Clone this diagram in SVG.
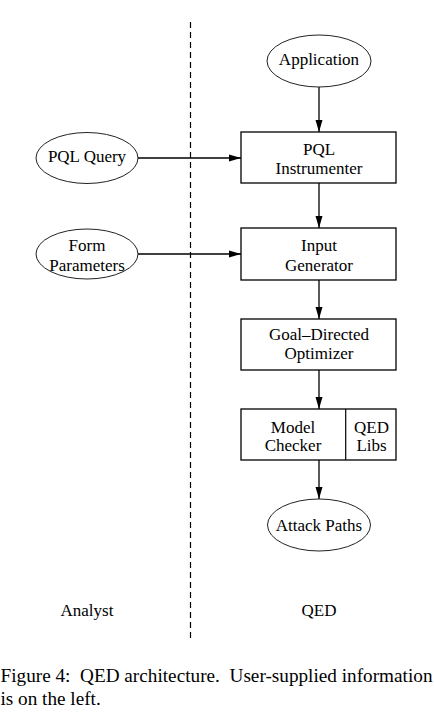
<svg xmlns="http://www.w3.org/2000/svg" width="434" height="716" viewBox="0 0 434 716">
<style>
text{font-family:"Liberation Serif","Times New Roman",serif;font-size:17px;fill:#000;text-anchor:middle}
.box{fill:#fff;stroke:#000;stroke-width:1.3}
.ell{fill:#fff;stroke:#222;stroke-width:1}
.edge{stroke:#000;stroke-width:1.3;fill:none}
.cap{font-size:19.2px;text-anchor:start}
</style>
<defs>
<marker id="ah" markerWidth="12" markerHeight="8" refX="12" refY="4" orient="auto" markerUnits="userSpaceOnUse">
<path d="M0,0.5 L12,4 L0,7.5 Z" fill="#000"/>
</marker>
</defs>
<rect width="434" height="716" fill="#fff"/>
<line x1="190.5" y1="22" x2="190.5" y2="642" stroke="#000" stroke-width="1.2" stroke-dasharray="6,4"/>
<g id="connectors">
<line class="edge" x1="319" y1="87" x2="319" y2="132" marker-end="url(#ah)"/>
<line class="edge" x1="138" y1="158" x2="241" y2="158" marker-end="url(#ah)"/>
<line class="edge" x1="319" y1="183" x2="319" y2="228" marker-end="url(#ah)"/>
<line class="edge" x1="138" y1="254" x2="241" y2="254" marker-end="url(#ah)"/>
<line class="edge" x1="319" y1="280" x2="319" y2="319" marker-end="url(#ah)"/>
<line class="edge" x1="319" y1="370" x2="319" y2="409" marker-end="url(#ah)"/>
<line class="edge" x1="319" y1="460" x2="319" y2="499" marker-end="url(#ah)"/>
</g>
<g id="application">
<ellipse class="ell" cx="319" cy="61" rx="52" ry="26"/>
<text x="319" y="65">Application</text>
</g>
<g id="pql-query">
<ellipse class="ell" cx="87" cy="158" rx="51" ry="25.5"/>
<text x="87" y="162">PQL Query</text>
</g>
<g id="pql-instrumenter">
<rect class="box" x="241" y="132" width="155" height="51"/>
<text x="319" y="155">PQL</text>
<text x="319" y="174">Instrumenter</text>
</g>
<g id="form-parameters">
<ellipse class="ell" cx="87" cy="254" rx="51" ry="25"/>
<text x="87" y="251">Form</text>
<text x="87" y="271">Parameters</text>
</g>
<g id="input-generator">
<rect class="box" x="241" y="228" width="155" height="52"/>
<text x="319" y="251">Input</text>
<text x="319" y="271">Generator</text>
</g>
<g id="goal-directed-optimizer">
<rect class="box" x="241" y="319" width="155" height="51"/>
<text x="319" y="340">Goal–Directed</text>
<text x="319" y="359">Optimizer</text>
</g>
<g id="model-checker">
<rect class="box" x="241" y="409" width="155" height="51"/>
<line x1="345.7" y1="409" x2="345.7" y2="460" stroke="#000" stroke-width="1.2"/>
<text x="293" y="433">Model</text>
<text x="293" y="451">Checker</text>
<text x="371.5" y="433">QED</text>
<text x="371.5" y="451">Libs</text>
</g>
<g id="attack-paths">
<ellipse class="ell" cx="319" cy="525" rx="51.5" ry="26"/>
<text x="319" y="531">Attack Paths</text>
</g>
<text x="87" y="616">Analyst</text>
<text x="319" y="616">QED</text>
<text class="cap" x="0.5" y="682" textLength="432" lengthAdjust="spacing" xml:space="preserve">Figure 4:  QED architecture.  User-supplied information</text>
<text class="cap" x="0.5" y="705">is on the left.</text>
</svg>
